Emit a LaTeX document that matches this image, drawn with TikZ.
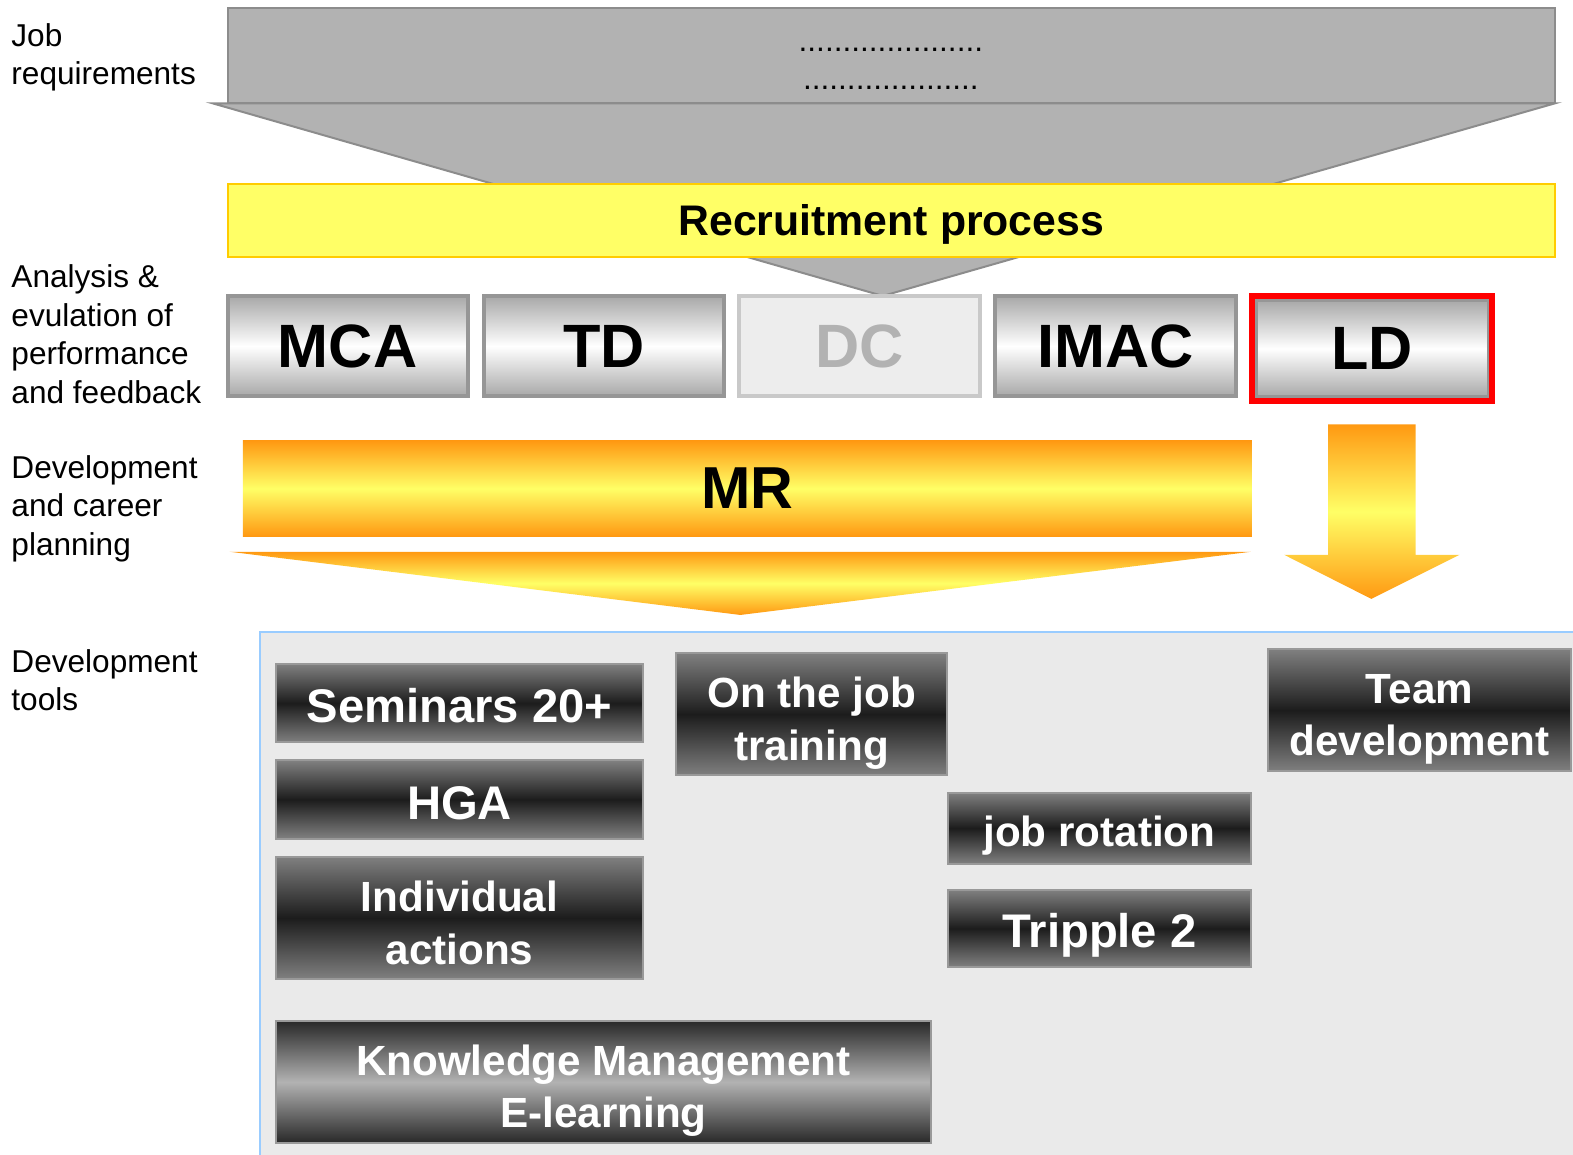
\documentclass[tikz,border=0pt]{standalone}
\usepackage{fontspec}
\setmainfont{Liberation Sans}
\definecolor{topgray}{HTML}{B2B2B2}
\definecolor{topedge}{HTML}{8C8C8C}
\definecolor{lemon}{HTML}{FFFF66}
\definecolor{gold}{HTML}{FFCC00}
\definecolor{amber}{HTML}{FF9912}
\definecolor{silver}{HTML}{A8A8A8}
\definecolor{silveredge}{HTML}{969696}
\definecolor{panelfill}{HTML}{EAEAEA}
\definecolor{paneledge}{HTML}{99CCFF}
\definecolor{darkmid}{HTML}{1C1C1C}
\definecolor{darkend}{HTML}{808080}
\definecolor{darkedge}{HTML}{999999}
\definecolor{ldred}{HTML}{FF0000}
\tikzset{
  x=0.50159pt, y=-0.50159pt,
  sidelabel/.style={anchor=west, align=left, inner sep=0pt,
    font=\fontsize{15.8pt}{19.25pt}\selectfont},
  graybox/.style={draw=silveredge, line width=2pt, inner sep=0pt,
    top color=silver, bottom color=silver, middle color=white,
    font=\fontsize{30.6pt}{36pt}\selectfont\bfseries},
  darkbox/.style={draw=darkedge, line width=1pt, inner sep=0pt,
    top color=darkend, bottom color=darkend, middle color=darkmid,
    text=white, font=\fontsize{21.1pt}{26pt}\selectfont\bfseries,
    text height=18pt, text depth=0pt},
  bigtext/.style={font=\fontsize{23.6pt}{28pt}\selectfont\bfseries,
    text height=19.5pt, text depth=0pt},
  boxtext/.style={inner sep=0pt, align=center, text=white,
    font=\fontsize{21.1pt}{26.1pt}\selectfont\bfseries},
  glowbar/.style={top color=amber, bottom color=amber, middle color=lemon},
}
\begin{document}
\begin{tikzpicture}
\useasboundingbox (0,0) rectangle (1568,1151);

% funnel of job requirements
\filldraw[fill=topgray, draw=topedge, line width=1pt]
  (212,103) -- (1550,103) -- (880,295) -- cycle;
\node[draw=topedge, fill=topgray, line width=1pt, minimum width=663.6pt,
  minimum height=47.6pt, inner sep=0pt] (req) at (888.5,55.5) {};
\node[inner sep=0pt, align=center, font=\fontsize{15.8pt}{19.25pt}\selectfont]
  (dots) at (888,68.5) {.....................\\....................};

% recruitment band
\node[draw=gold, fill=lemon, line width=1pt, minimum width=663.6pt,
  minimum height=36.6pt, inner sep=0pt, text depth=0pt,
  font=\fontsize{21.4pt}{25pt}\selectfont\bfseries] (recruit) at (888.5,219.5)
  {Recruitment process};

% evaluation instruments
\node[graybox, minimum width=119.9pt, minimum height=50.2pt] (mca) at (346.5,345) {MCA};
\node[graybox, minimum width=120.4pt, minimum height=50.2pt] (td) at (602,345) {TD};
\node[draw=black!21, fill=black!7, line width=2pt, inner sep=0pt,
  minimum width=120.4pt, minimum height=50.2pt, text=black!30,
  font=\fontsize{30.6pt}{36pt}\selectfont\bfseries] (dc) at (857,345) {DC};
\node[graybox, minimum width=120.4pt, minimum height=50.2pt] (imac) at (1112,345) {IMAC};
\node[graybox, minimum width=116.4pt, minimum height=48.6pt] (ld) at (1368,347.5) {LD};
\node[draw=ldred, line width=3pt, minimum width=119.9pt, minimum height=52.2pt,
  inner sep=0pt] (ldframe) at (ld.center) {};

% MR bar and its arrow
\node[glowbar, minimum width=504.6pt, minimum height=47.6pt, inner sep=0pt,
  font=\fontsize{29.6pt}{35pt}\selectfont\bfseries] (mr) at (745,487) {MR};
\coordinate (mrtip) at (738,613);
\shade[glowbar] (229,550) -- (1247,550) -- (mrtip) -- cycle;

% arrow below LD
\coordinate (ldtip) at (1367,597);
\shade[glowbar] (1324,423) -- (1411,423) -- (1411,553) -- (1455,553)
  -- (ldtip) -- (1280,553) -- (1324,553) -- cycle;

% development tools panel
\filldraw[fill=panelfill, draw=paneledge, line width=1pt]
  (259,630) rectangle (1590,1170);

\node[darkbox, bigtext, minimum width=183.6pt, minimum height=39.1pt] (sem) at (458,701) {Seminars 20+};
\node[darkbox, bigtext, minimum width=183.6pt, minimum height=39.1pt] (hga) at (458,797) {HGA};
\node[darkbox, minimum width=151.5pt, minimum height=35.6pt] (rot) at (1096,825.5) {job rotation};
\node[darkbox, bigtext, minimum width=151.5pt, minimum height=38.6pt] (tri) at (1096,925.5) {Tripple 2};

\node[darkbox, minimum width=183.6pt, minimum height=61.2pt] (ind) at (458,915) {};
\node[boxtext] (indtext) at ([yshift=-2.5pt]ind.center) {Individual\\actions};
\node[darkbox, minimum width=135.4pt, minimum height=61.2pt] (ojt) at (809,712) {};
\node[boxtext] (ojttext) at ([yshift=-4.5pt]ojt.center) {On the job\\training};
\node[darkbox, minimum width=151.5pt, minimum height=61.2pt] (team) at (1415,708) {};
\node[boxtext] (teamtext) at ([yshift=-4.5pt]team.center) {Team\\development};
\node[darkbox, top color=black!84, bottom color=black!84, middle color=black!30,
  minimum width=327.5pt, minimum height=60.7pt] (km) at (601.5,1078.5) {};
\node[boxtext] (kmtext) at ([yshift=-4.5pt]km.center) {Knowledge Management\\E-learning};

% row labels
\node[sidelabel] (lreq) at (11,57) {Job\\requirements};
\node[sidelabel] (lana) at (11,333) {Analysis \&\\evulation of\\performance\\and feedback};
\node[sidelabel] (ldev) at (11,507) {Development\\and career\\planning};
\node[sidelabel] (ltools) at (11,678) {Development\\tools};
\end{tikzpicture}
\end{document}
